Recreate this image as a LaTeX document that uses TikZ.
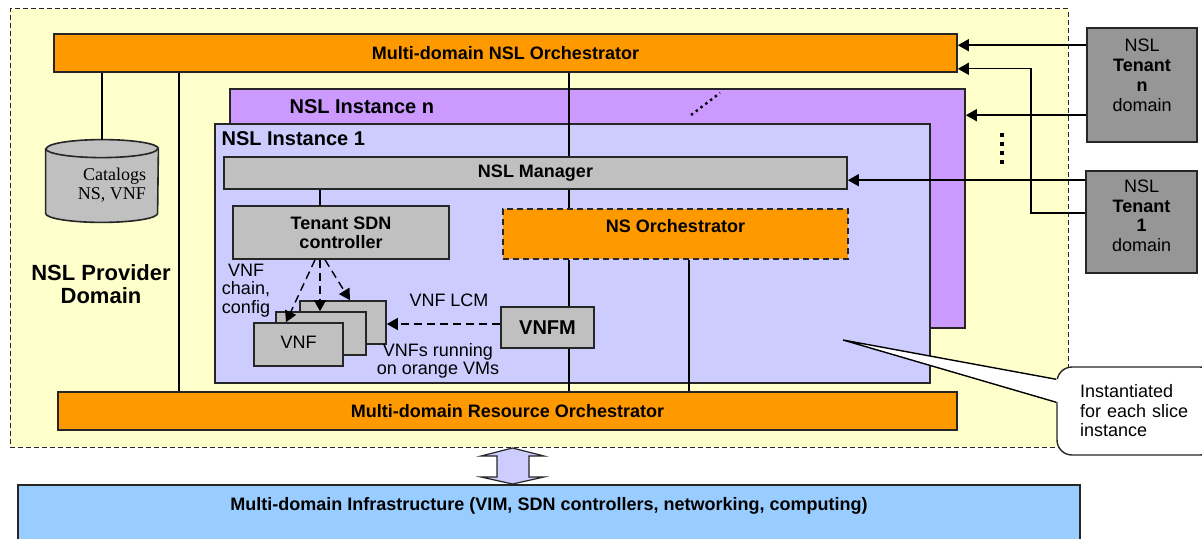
\documentclass[tikz,border=0pt]{standalone}
\usepackage{fontspec}
\setmainfont{Liberation Sans}
\newfontfamily\catalogfont{Liberation Serif}
\usetikzlibrary{arrows.meta}

\definecolor{provideryellow}{HTML}{FFFFCC}
\definecolor{orchorange}{HTML}{FF9900}
\definecolor{instpurple}{HTML}{CC99FF}
\definecolor{instblue}{HTML}{CCCCFF}
\definecolor{boxgray}{HTML}{C0C0C0}
\definecolor{tenantgray}{HTML}{969696}
\definecolor{infrablue}{HTML}{99CCFF}

\newcommand{\fsnine}{\fontsize{9}{9.5}\selectfont}
\newcommand{\fsten}{\fontsize{10}{10}\selectfont}
\newcommand{\fsbig}{\fontsize{11}{11.5}\selectfont}

\begin{document}
\begin{tikzpicture}[
    x=0.5pt, y=-0.5pt,
    every node/.style={align=center, inner sep=0pt, font=\fsnine},
    block/.style={draw=black!85, line width=0.8pt},
    orch/.style={block, fill=orchorange, font=\fsnine\bfseries},
    graybox/.style={block, fill=boxgray},
    tenant/.style={block, fill=tenantgray, minimum width=55pt},
    cylend/.style={x radius=28pt, y radius=4.5pt},
    link/.style={line width=0.7pt},
    arrow/.style={link, -{Triangle[length=5.5pt, width=6pt]}},
    dasharrow/.style={arrow, dash pattern=on 4pt off 2.5pt}
  ]
  \clip (0,0) rectangle (1202,539);

  % Provider domain
  \node[draw=black!85, line width=0.5pt, dash pattern=on 2.5pt off 1.5pt, fill=provideryellow,
        minimum width=529pt, minimum height=219pt] (provider) at (539,228) {};
  \node[font=\fsbig\bfseries] (provlabel) at (101,284) {NSL Provider\\Domain};

  % Orchestrators
  \node[orch, minimum width=451.5pt, minimum height=19pt] (nslorch) at (505.5,53) {Multi-domain NSL Orchestrator};
  \node[orch, minimum width=449.5pt, minimum height=19pt] (resorch) at (507.5,411) {Multi-domain Resource Orchestrator};

  % Catalogs (cylinder)
  \node[minimum width=56pt, minimum height=41pt] (catalogs) at (102,181) {};
  \filldraw[block, fill=boxgray] ([yshift=-4.5pt]catalogs.north west) -- ([yshift=4.5pt]catalogs.south west)
    arc[start angle=180, end angle=360, cylend] -- ([yshift=-4.5pt]catalogs.north east)
    arc[start angle=0, end angle=180, cylend] -- cycle;
  \draw[block] ([yshift=-4.5pt]catalogs.north west) arc[start angle=180, end angle=360, cylend];
  \node[font=\catalogfont\fsnine, align=right] (catalogtext) at ([xshift=5pt, yshift=-2pt]catalogs.center) {Catalogs\\NS, VNF};

  % Slice instances
  \node[block, fill=instpurple, minimum width=367.5pt, minimum height=119.5pt,
        label={[anchor=north west, xshift=30pt, yshift=-5.5pt, font=\fsten\bfseries]north west:NSL Instance n}] (instn) at (597.5,208.5) {};
  \node[block, fill=instblue, minimum width=357.5pt, minimum height=129.5pt,
        label={[anchor=north west, xshift=3.5pt, yshift=-4pt, font=\fsten\bfseries]north west:NSL Instance 1}] (inst1) at (572.5,253.5) {};

  \node[graybox, minimum width=311.5pt, minimum height=16pt, font=\fsnine\bfseries] (manager) at (535.5,173) {NSL Manager};
  \node[graybox, minimum width=108pt, minimum height=26.5pt, font=\fsnine\bfseries] (sdn) at (341,232.5) {Tenant SDN\\controller};
  \node[block, fill=orchorange, dash pattern=on 3pt off 2pt, minimum width=172.5pt, minimum height=25pt,
        label={[anchor=north, yshift=-5.25pt, font=\fsnine\bfseries]north:NS Orchestrator}] (nsorch) at (675.5,234) {};
  \node[graybox, minimum width=46.5pt, minimum height=20.5pt, font=\fsten\bfseries] (vnfm) at (547.5,327.5) {VNFM};

  % VNF stack
  \node[graybox, minimum width=43pt, minimum height=21.5pt] (vnfback) at (343,322.5) {};
  \node[graybox, minimum width=45pt, minimum height=21.5pt] (vnfmid) at (321,333.5) {};
  \node[graybox, minimum width=44.5pt, minimum height=21.5pt] (vnffront) at (298.5,344.5) {\raisebox{2.25pt}{VNF}};

  \node[font=\fontsize{9}{9.25}\selectfont] (chaintext) at (246,290.5) {VNF\\chain,\\config};
  \node (lcmtext) at (449,300) {VNF LCM};
  \node[font=\fontsize{9}{9}\selectfont] (vmtext) at (438,361) {VNFs running\\on orange VMs};

  % Tenant domains
  \node[tenant, minimum height=57pt,
        label={[anchor=north, yshift=-5.75pt, font=\fontsize{9}{10}\selectfont]north:{NSL\\\textbf{Tenant}\\\textbf{n}\\domain}}] (tenantn) at (1142,85) {};
  \node[tenant, minimum width=55.5pt, minimum height=51pt,
        label={[anchor=north, yshift=-4.75pt, font=\fontsize{9}{9.75}\selectfont]north:{NSL\\\textbf{Tenant}\\\textbf{1}\\domain}}] (tenant1) at (1141.5,222) {};

  % Infrastructure
  \node[block, fill=infrablue, minimum width=531pt, minimum height=30pt,
        label={[anchor=north, yshift=-6.25pt, font=\fsnine\bfseries]north:{Multi-domain Infrastructure (VIM, SDN controllers, networking, computing)}}] (infra) at (549,515) {};
  \filldraw[fill=instblue, draw=black!85, line width=0.6pt]
    (497,456) -- (481,456) -- (512.5,448) -- (544,456) -- (529,456) -- (529,477)
    -- (544,477) -- (512.5,484) -- (481,477) -- (497,477) -- cycle;

  % Internal links
  \coordinate (catbus) at (179,0);
  \coordinate (mainbus) at (569,0);
  \coordinate (sdnbus) at (320,0);
  \coordinate (nsbus) at (689,0);
  \coordinate (tenantbus) at (1031,0);

  \draw[link] (catalogs.north |- nslorch.south) -- (catalogs.north);
  \draw[link] (catbus |- nslorch.south) -- (catbus |- resorch.north);
  \draw[link] (mainbus |- nslorch.south) -- (mainbus |- manager.north);
  \draw[link] (mainbus |- manager.south) -- (mainbus |- nsorch.north);
  \draw[link] (mainbus |- nsorch.south) -- (mainbus |- vnfm.north);
  \draw[link] (mainbus |- vnfm.south) -- (mainbus |- resorch.north);
  \draw[link] (sdnbus |- manager.south) -- (sdnbus |- sdn.north);
  \draw[link] (nsbus |- nsorch.south) -- (nsbus |- resorch.north);

  % Chaining and lifecycle
  \coordinate (chainsrc) at ([xshift=-10.5pt]sdn.south);
  \draw[dasharrow] ([xshift=-2.5pt]chainsrc) -- ([xshift=-6.25pt]vnffront.north);
  \draw[dasharrow] (chainsrc) -- ([xshift=-0.5pt]vnfmid.north);
  \draw[dasharrow] ([xshift=2.5pt]chainsrc) -- ([xshift=3.5pt]vnfback.north);
  \coordinate (lcmsrc) at ([yshift=1.75pt]vnfm.west);
  \draw[dasharrow] (lcmsrc) -- (lcmsrc -| vnfback.east);

  % Tenant requests
  \coordinate (tnorch) at ([yshift=-9pt]tenantn.north west);
  \coordinate (tninst) at ([yshift=-44pt]tenantn.north west);
  \coordinate (t1mgr) at ([yshift=-5pt]tenant1.north west);
  \coordinate (t1orch) at ([yshift=-21.5pt]tenant1.north west);
  \coordinate (orchin) at ([yshift=2pt]nslorch.south east);
  \draw[arrow] (tnorch) -- (tnorch -| nslorch.east);
  \draw[arrow] (tninst) -- (tninst -| instn.east);
  \draw[arrow] (t1mgr) -- (t1mgr -| manager.east);
  \draw[arrow] (t1orch) -- (t1orch -| tenantbus) |- (orchin);

  % More instances
  \draw[line width=1.2pt, dash pattern=on 1.2pt off 1.8pt] (691,115) -- (720,93);
  \foreach \dy in {133,142,151,160}
    \fill (1000,\dy) rectangle (1004,\dy+4);

  % Callout
  \node[draw=black!85, line width=0.7pt, fill=white, rounded corners=7.5pt, minimum width=79pt, minimum height=44pt,
        text width=56pt, align=left, font=\fontsize{9}{9.75}\selectfont] (slicenote) at (1136,411) {Instantiated\\for each slice\\instance};
  \coordinate (slicetip) at (843,340);
  \coordinate (noteup) at ([yshift=-6.5pt]slicenote.north west);
  \coordinate (notelow) at ([yshift=-18pt]slicenote.north west);
  \fill[white] ([xshift=1pt]noteup) -- (slicetip) -- ([xshift=1pt]notelow) -- cycle;
  \draw[link] (noteup) -- (slicetip) -- (notelow);
\end{tikzpicture}
\end{document}
